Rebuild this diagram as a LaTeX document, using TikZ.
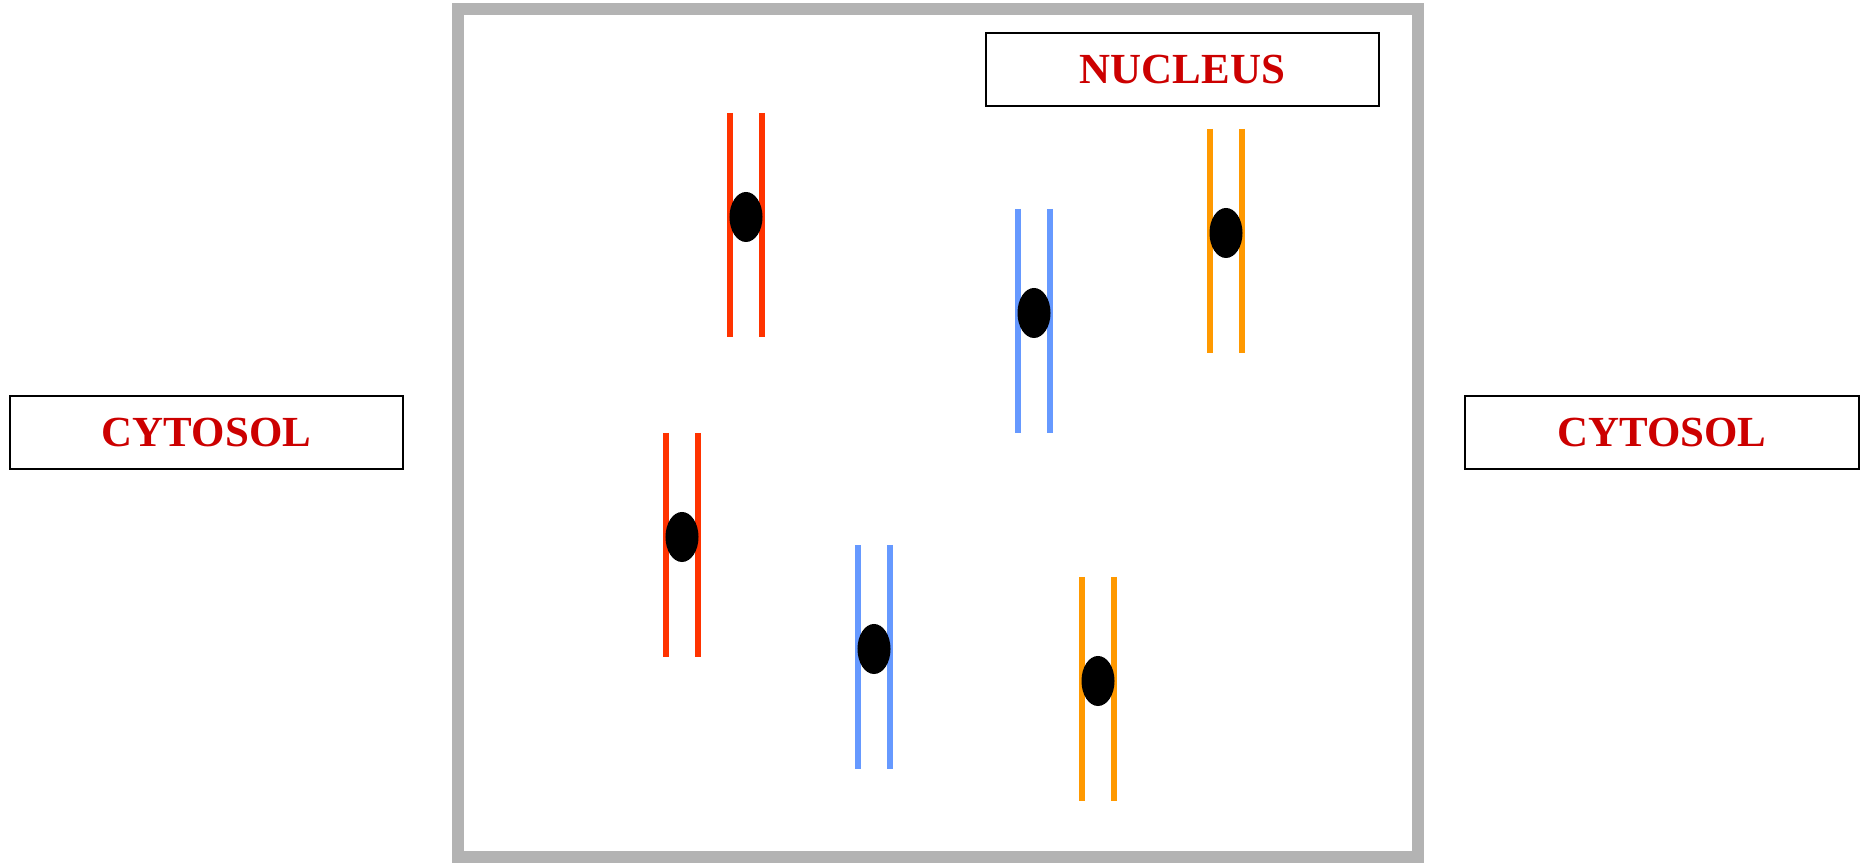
\documentclass[tikz,border=0pt]{standalone}
\usepackage{fontspec}
\setmainfont{Liberation Serif}
\usetikzlibrary{shapes.geometric}

\definecolor{wallgray}{RGB}{179,179,179}
\definecolor{labelred}{RGB}{204,0,0}
\definecolor{chrred}{RGB}{255,51,0}
\definecolor{chrblue}{RGB}{102,153,255}
\definecolor{chrorange}{RGB}{255,153,0}

\tikzset{
  cellwall/.style={draw=wallgray,line width=0.12cm},
  labelbox/.style={draw,line width=0.02cm,minimum width=3.93cm,minimum height=0.73cm,
    inner sep=0pt,text=labelred,font=\fontsize{12.2}{14}\selectfont\bfseries},
  chromatid/.style={line width=0.06cm},
  centromere/.style={ellipse,fill=black,minimum width=0.33cm,minimum height=0.5cm,inner sep=0pt}
}

\begin{document}
\begin{tikzpicture}[x=0.01cm,y=-0.01cm]
        \useasboundingbox (0,0) rectangle (1860,865);

        % nuclear envelope
        \draw[cellwall] (458,9) rectangle (1418,857);

        \begin{scope}[every node/.style={labelbox}]
          \node (nucleus) at (1182.5,69.5) {NUCLEUS};
          \node (cytosolL) at (206.5,432.5) {CYTOSOL};
          \node (cytosolR) at (1662,432.5) {CYTOSOL};
        \end{scope}

        % chromosomes: centre x / top y / colour / name
        \foreach \x/\y/\c/\n in {746/113/chrred/redA, 682/433/chrred/redB,
                                 1034/209/chrblue/blueA, 874/545/chrblue/blueB,
                                 1226/129/chrorange/orangeA, 1098/577/chrorange/orangeB} {
          \draw[chromatid,\c] (\x-16,\y) -- ++(0,224);
          \draw[chromatid,\c] (\x+16,\y) -- ++(0,224);
          \node[centromere] (\n) at (\x,\y+104) {};
        }

      \end{tikzpicture}
\end{document}
